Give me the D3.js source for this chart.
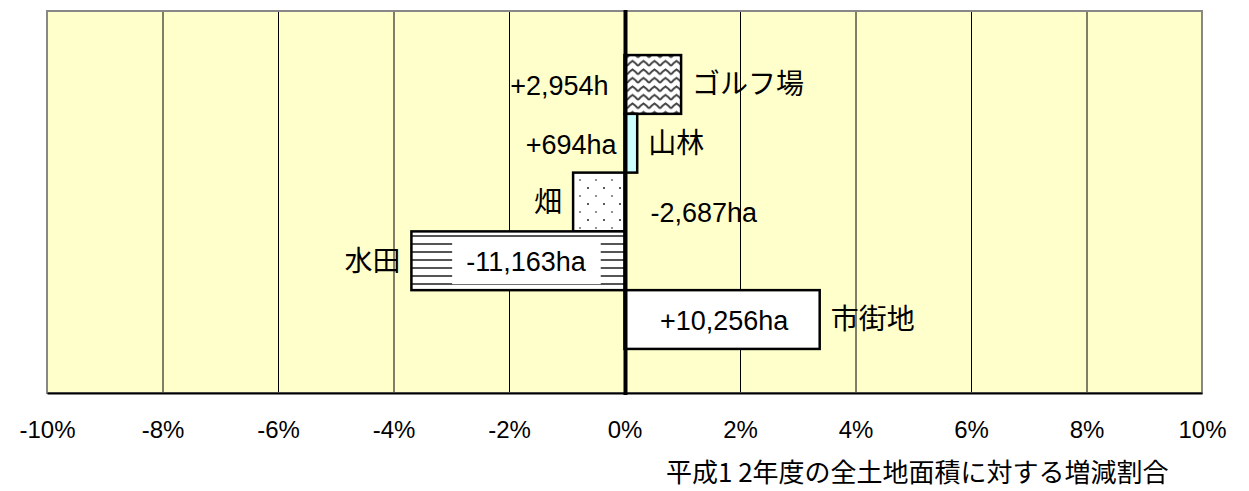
<!DOCTYPE html>
<html>
<head>
<meta charset="utf-8">
<script src="https://cdn.jsdelivr.net/npm/d3@7"></script>
<style>
  html, body { margin: 0; padding: 0; background: #ffffff; }
  svg { display: block; }
</style>
</head>
<body>
<div id="chart"></div>
<script>
// ---- data ----
const categories = ["ゴルフ場", "山林", "畑", "水田", "市街地"];
const changeRatio = [0.98, 0.22, -0.89, -3.69, 3.38];   // % of total land area (H12)
const areaLabels = ["+2,954h", "+694ha", "-2,687ha", "-11,163ha", "+10,256ha"];
const xTicks = [-10, -8, -6, -4, -2, 0, 2, 4, 6, 8, 10];
const xTickLabels = ["-10%", "-8%", "-6%", "-4%", "-2%", "0%", "2%", "4%", "6%", "8%", "10%"];
const axisTitle = "平成1 2年度の全土地面積に対する増減割合";

// ---- styles (not data) ----
const barFills = ["url(#wave)", "#ccffff", "url(#dots)", "url(#hlines)", "#ffffff"];
// where each value label goes
const valueMode = ["leftOfZero", "leftOfZero", "rightOfZero", "inside", "inside"];

const W = 1249, H = 491;
const plot = { left: 47, right: 1202, top: 11, bottom: 393 };

const svg = d3.select("#chart").append("svg")
  .attr("width", W).attr("height", H);

const defs = svg.append("defs");
// wave pattern
const pw = defs.append("pattern").attr("id", "wave")
  .attr("patternUnits", "userSpaceOnUse").attr("width", 11).attr("height", 8.5);
pw.append("rect").attr("width", 11).attr("height", 8.5).attr("fill", "#fff");
pw.append("path").attr("d", "M0,6.5 L2.75,3.5 L5.5,1.5 L8.25,3.5 L11,6.5")
  .attr("fill", "none").attr("stroke", "#444").attr("stroke-width", 2);
// dots pattern
const pd = defs.append("pattern").attr("id", "dots")
  .attr("patternUnits", "userSpaceOnUse").attr("width", 16).attr("height", 16);
pd.append("rect").attr("width", 16).attr("height", 16).attr("fill", "#fff");
pd.append("circle").attr("cx", 4).attr("cy", 4).attr("r", 1.1).attr("fill", "#777");
pd.append("circle").attr("cx", 12).attr("cy", 12).attr("r", 1.1).attr("fill", "#333");
// horizontal lines pattern
const ph = defs.append("pattern").attr("id", "hlines")
  .attr("patternUnits", "userSpaceOnUse").attr("width", 8).attr("height", 8);
ph.append("rect").attr("width", 8).attr("height", 8).attr("fill", "#fff");
ph.append("rect").attr("y", 3).attr("width", 8).attr("height", 2).attr("fill", "#555");

const x = d3.scaleLinear().domain([-10, 10]).range([plot.left, plot.right]);
const y = d3.scaleBand().domain(categories).range([plot.top, plot.bottom])
  .paddingInner(0).paddingOuter(0.75);

// plot background
svg.append("rect")
  .attr("x", plot.left).attr("y", plot.top)
  .attr("width", plot.right - plot.left).attr("height", plot.bottom - plot.top)
  .attr("fill", "#ffffcc");

// gridlines
svg.append("g").selectAll("line")
  .data(xTicks.filter(t => t !== -10 && t !== 10 && t !== 0))
  .join("line")
  .attr("x1", d => x(d) + 0.5).attr("x2", d => x(d) + 0.5)
  .attr("y1", plot.top).attr("y2", plot.bottom)
  .attr("stroke", "#000").attr("stroke-width", 1);

// plot border
svg.append("rect")
  .attr("x", plot.left).attr("y", plot.top)
  .attr("width", plot.right - plot.left).attr("height", plot.bottom - plot.top)
  .attr("fill", "none").attr("stroke", "#888").attr("stroke-width", 2);

// x axis (bottom)
const xAxis = d3.axisBottom(x).tickValues(xTicks)
  .tickFormat((d, i) => xTickLabels[i]).tickSize(0).tickPadding(28);
const gx = svg.append("g").attr("transform", `translate(0,${plot.bottom})`).call(xAxis);
gx.select(".domain").attr("stroke", "#000").attr("stroke-width", 2);
gx.selectAll("text")
  .attr("font-family", "'Liberation Sans', Arial, sans-serif")
  .attr("font-size", 24).attr("fill", "#000");

// bars
const data = categories.map((c, i) => ({ c, v: changeRatio[i], lab: areaLabels[i], fill: barFills[i], mode: valueMode[i] }));
svg.append("g").selectAll("rect")
  .data(data).join("rect")
  .attr("x", d => Math.min(x(0), x(d.v)))
  .attr("y", d => y(d.c))
  .attr("width", d => Math.abs(x(d.v) - x(0)))
  .attr("height", y.bandwidth())
  .attr("fill", d => d.fill)
  .attr("stroke", "#000").attr("stroke-width", 2.5);

// zero line
svg.append("line")
  .attr("x1", x(0) + 1).attr("x2", x(0) + 1)
  .attr("y1", plot.top - 1).attr("y2", plot.bottom + 2)
  .attr("stroke", "#000").attr("stroke-width", 4);

// category name labels
const jpFont = "'Noto Sans CJK JP', 'Noto Sans', sans-serif";
const numFont = "'Liberation Sans', Arial, sans-serif";
svg.append("g").selectAll("text")
  .data(data).join("text")
  .attr("x", d => d.v >= 0 ? x(d.v) + 11 : x(d.v) - 11)
  .attr("y", d => y(d.c) + y.bandwidth() / 2)
  .attr("dy", "0.35em")
  .attr("text-anchor", d => d.v >= 0 ? "start" : "end")
  .attr("font-family", jpFont).attr("font-size", 28).attr("fill", "#000")
  .text(d => d.c);

// value labels
const vg = svg.append("g");
data.forEach((d, i) => {
  const cy = y(d.c) + y.bandwidth() / 2;
  let tx, anchor = "middle", dyOff = 0;
  if (d.mode === "leftOfZero") { tx = x(0) - (i === 0 ? 16 : 8); anchor = "end"; }
  else if (d.mode === "rightOfZero") { tx = x(0) + 26; anchor = "start"; dyOff = 10; }
  else { tx = (x(0) + x(d.v)) / 2 + (d.v < 0 ? 8 : 2); }
  const t = vg.append("text")
    .attr("x", tx).attr("y", cy + dyOff + 1)
    .attr("dy", "0.35em")
    .attr("text-anchor", anchor)
    .attr("font-family", numFont).attr("font-size", 27).attr("fill", "#000")
    .text(d.lab);
  if (d.mode === "inside" && d.v < 0) {
    const bb = t.node().getBBox();
    vg.insert("rect", () => t.node())
      .attr("x", bb.x - 14).attr("y", y(d.c) + 6)
      .attr("width", bb.width + 28).attr("height", y.bandwidth() - 12)
      .attr("fill", "#fff");
  }
});

// axis title
svg.append("text")
  .attr("x", (x(0) + plot.right) / 2 + 4)
  .attr("y", 473)
  .attr("dy", "0.35em")
  .attr("text-anchor", "middle")
  .attr("font-family", jpFont).attr("font-size", 26).attr("fill", "#000")
  .text(axisTitle);
</script>
</body>
</html>
